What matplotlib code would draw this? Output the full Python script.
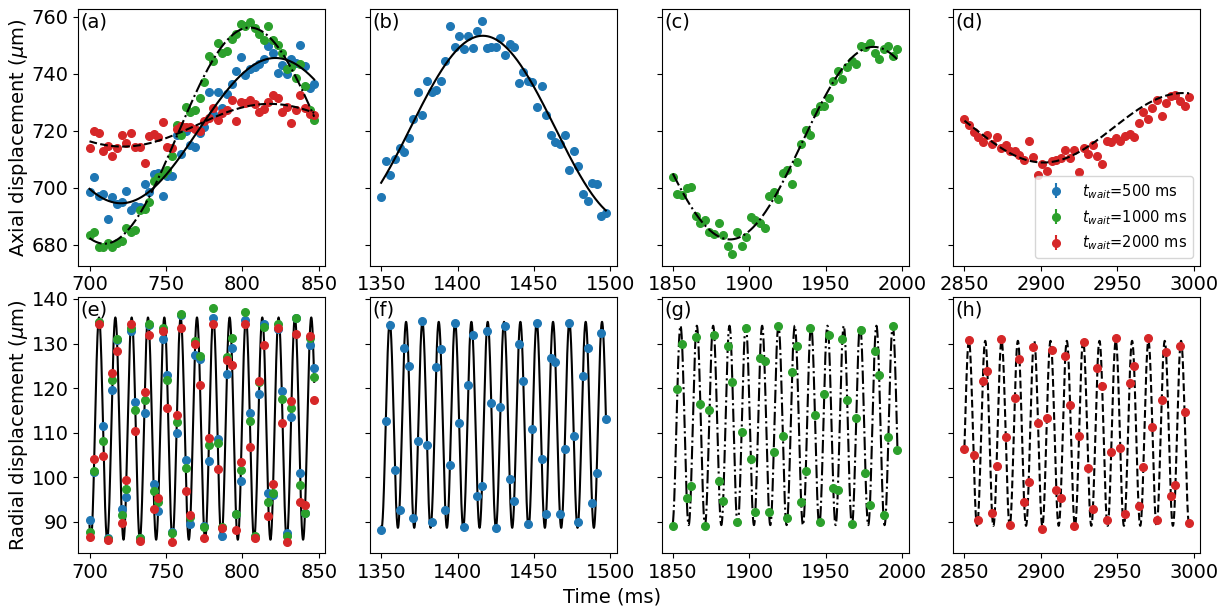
import numpy as np
import matplotlib
matplotlib.use("Agg")
import matplotlib.pyplot as plt

# ---------------- data ----------------
t_a = [700, 703, 706, 709, 712, 715, 718, 721, 724, 727, 730, 733, 736, 739, 742, 745, 748, 751, 754, 757,
       760, 763, 766, 769, 772, 775, 778, 781, 784, 787, 790, 793, 796, 799, 802, 805, 808, 811, 814, 817,
       820, 823, 826, 829, 832, 835, 838, 841, 844, 847]
t_b = [1350, 1353, 1356, 1359, 1362, 1365, 1368, 1371, 1374, 1377, 1380, 1383, 1386, 1389, 1392, 1395, 1398,
       1401, 1404, 1407, 1410, 1413, 1416, 1419, 1422, 1425, 1428, 1431, 1434, 1437, 1440, 1443, 1446, 1449,
       1452, 1455, 1458, 1461, 1464, 1467, 1470, 1473, 1476, 1479, 1482, 1485, 1488, 1491, 1494, 1497]
t_c = [1850, 1853, 1856, 1859, 1862, 1865, 1868, 1871, 1874, 1877, 1880, 1883, 1886, 1889, 1892, 1895, 1898,
       1901, 1904, 1907, 1910, 1913, 1916, 1919, 1922, 1925, 1928, 1931, 1934, 1937, 1940, 1943, 1946, 1949,
       1952, 1955, 1958, 1961, 1964, 1967, 1970, 1973, 1976, 1979, 1982, 1985, 1988, 1991, 1994, 1997]
t_d = [2850, 2853, 2856, 2859, 2862, 2865, 2868, 2871, 2874, 2877, 2880, 2883, 2886, 2889, 2892, 2895, 2898,
       2901, 2904, 2907, 2910, 2913, 2916, 2919, 2922, 2925, 2928, 2931, 2934, 2937, 2940, 2943, 2946, 2949,
       2952, 2955, 2958, 2961, 2964, 2967, 2970, 2973, 2976, 2979, 2982, 2985, 2988, 2991, 2994, 2997]

# axial displacement (um)
ax_a_blue = [698.6, 703.7, 697.1, 697.8, 688.9, 696.7, 694.1, 694.8, 698.7, 692.1, 693.4, 693.3, 701.2, 698.4,
             704.7, 705.0, 697.2, 704.1, 704.1, 718.3, 711.8, 719.7, 715.1, 714.1, 719.3, 721.2, 733.4, 725.9,
             733.5, 728.0, 732.7, 736.5, 740.8, 745.7, 739.7, 741.5, 742.4, 743.3, 745.3, 749.7, 747.1, 740.1,
             743.2, 739.9, 745.0, 743.8, 750.0, 742.8, 735.0, 736.5]
ax_a_green = [683.2, 684.4, 679.2, 679.2, 680.5, 679.2, 680.6, 681.4, 685.9, 684.4, 685.1, 692.3, 692.6, 695.0,
              702.4, 703.6, 704.7, 706.3, 711.0, 722.1, 718.6, 728.2, 726.5, 727.3, 731.5, 737.1, 746.2, 744.4,
              750.8, 747.1, 747.9, 752.1, 753.8, 757.3, 756.8, 758.2, 756.2, 753.8, 751.8, 756.7, 751.8, 750.2,
              747.4, 741.8, 742.4, 738.6, 743.5, 735.5, 727.1, 723.9]
ax_a_red = [713.9, 720.0, 719.2, 712.8, 714.7, 711.1, 713.9, 718.6, 715.5, 719.1, 714.4, 714.1, 708.7, 718.0,
            718.8, 717.9, 723.2, 714.4, 713.9, 720.6, 721.5, 721.4, 721.2, 720.6, 719.7, 723.5, 724.5, 728.0,
            723.8, 726.2, 727.3, 730.9, 723.3, 730.2, 729.8, 730.6, 729.2, 726.6, 727.7, 730.0, 732.6, 731.4,
            726.7, 728.2, 722.6, 727.1, 732.6, 727.8, 725.9, 725.5]
ax_b_blue = [696.7, 709.4, 704.5, 710.1, 713.8, 712.6, 717.3, 724.2, 733.7, 725.5, 737.3, 733.7, 734.1, 737.3,
             744.4, 756.8, 749.5, 753.3, 748.7, 753.3, 748.9, 754.9, 758.6, 749.1, 749.5, 749.5, 752.4, 746.6,
             750.4, 749.2, 736.8, 740.6, 737.3, 737.2, 728.4, 735.8, 725.5, 718.6, 715.9, 715.2, 718.5, 706.3,
             713.0, 707.7, 697.7, 695.3, 701.6, 701.2, 690.0, 691.0]
ax_c_green = [703.8, 697.9, 697.3, 699.7, 700.3, 690.0, 687.6, 688.5, 684.3, 683.8, 687.4, 683.4, 679.6, 676.7,
              684.3, 679.6, 682.6, 689.7, 688.5, 687.7, 685.9, 697.0, 698.3, 695.9, 705.0, 706.1, 701.1, 709.0,
              715.2, 720.2, 718.5, 726.7, 728.5, 728.8, 731.4, 737.3, 741.1, 738.0, 742.3, 744.5, 743.5, 749.8,
              749.4, 750.9, 747.3, 745.3, 748.6, 749.8, 746.1, 748.5]
ax_d_red = [724.1, 722.1, 719.4, 717.9, 716.1, 718.5, 715.3, 717.8, 713.9, 715.0, 713.0, 712.7, 711.5, 709.8,
            716.4, 710.8, 704.4, 708.3, 705.9, 709.2, 709.8, 710.4, 713.2, 710.3, 713.2, 705.3, 713.9, 711.8,
            715.0, 711.2, 708.3, 716.5, 715.9, 717.3, 716.5, 718.0, 718.8, 717.9, 722.7, 726.7, 724.1, 727.9,
            730.8, 725.3, 729.7, 732.0, 732.6, 730.4, 728.5, 731.8]

# radial displacement (um)
rad_e_blue = [90.3, 101.1, 134.5, 111.5, 86.2, 119.5, 130.8, 92.9, 95.5, 132.7, 116.8, 86.2, 114.5, 134.2,
              98.5, 92.3, 131.1, 123.0, 87.7, 109.9, 136.3, 103.8, 89.4, 127.4, 126.5, 89.0, 103.7, 135.8,
              108.6, 86.8, 123.2, 129.0, 91.8, 99.2, 135.3, 114.3, 86.5, 118.6, 134.3, 96.4, 96.0, 133.3,
              119.4, 87.5, 113.5, 135.8, 100.8, 92.0, 129.6, 124.4]
rad_e_green = [87.7, 101.4, 134.9, 108.1, 86.0, 121.8, 131.1, 91.5, 97.3, 133.5, 115.0, 86.2, 117.3, 134.3,
               96.9, 94.3, 133.5, 121.8, 87.5, 112.4, 136.7, 102.1, 91.0, 130.5, 127.1, 88.8, 107.1, 137.9,
               107.6, 88.8, 127.0, 131.3, 91.8, 101.6, 137.0, 112.5, 86.7, 121.4, 133.7, 94.3, 96.4, 134.4,
               117.5, 86.7, 115.5, 135.8, 98.3, 92.0, 131.3, 122.4]
rad_e_red = [86.5, 104.0, 134.4, 104.8, 85.9, 123.3, 128.3, 89.6, 99.4, 134.4, 110.4, 85.6, 119.2, 131.8,
             92.9, 95.2, 132.8, 115.6, 85.5, 114.0, 133.5, 96.9, 91.5, 129.8, 120.6, 86.2, 108.7, 134.4,
             101.9, 88.6, 126.2, 125.2, 88.0, 103.3, 134.4, 106.8, 86.2, 121.6, 129.6, 91.2, 98.5, 133.5,
             112.1, 85.5, 117.0, 132.2, 94.5, 93.7, 131.6, 117.2]
rad_f_blue = [88.0, 112.6, 134.2, 101.6, 92.5, 128.9, 125.0, 90.8, 108.0, 135.1, 107.1, 90.0, 124.8, 128.8,
              92.5, 102.8, 134.5, 112.2, 88.8, 120.6, 131.8, 95.7, 97.9, 132.7, 116.6, 88.6, 115.7, 133.9,
              99.5, 94.6, 129.9, 121.6, 89.4, 110.7, 134.6, 104.1, 91.8, 126.7, 125.9, 91.7, 106.3, 134.5,
              109.2, 90.0, 122.7, 129.1, 94.1, 100.8, 132.4, 113.0]
rad_g_green = [89.0, 119.7, 129.9, 95.2, 98.1, 131.5, 116.3, 89.1, 115.1, 132.0, 99.2, 94.6, 129.4, 121.3,
               90.0, 110.2, 133.4, 104.0, 92.2, 126.8, 126.0, 92.1, 105.6, 134.0, 109.3, 90.9, 123.5, 129.5,
               94.4, 101.3, 133.4, 114.0, 89.9, 118.6, 132.0, 97.5, 97.0, 131.0, 117.4, 89.4, 113.2, 133.0,
               100.9, 93.8, 128.3, 123.0, 91.4, 109.1, 134.0, 106.1]
rad_h_red = [106.3, 130.8, 105.0, 90.3, 121.5, 123.8, 92.0, 102.5, 130.9, 108.9, 89.2, 117.8, 126.6, 94.3,
             98.8, 129.2, 112.2, 88.4, 113.3, 128.5, 97.2, 95.2, 127.1, 116.2, 89.1, 109.2, 130.3, 102.0,
             92.9, 124.4, 120.5, 90.4, 105.6, 131.2, 106.6, 91.6, 121.2, 125.0, 93.5, 102.3, 131.2, 111.3,
             90.3, 117.3, 128.1, 95.8, 98.3, 129.4, 114.7, 89.7]

# axial fit parameters: offset, amplitude, period (ms), time of maximum (ms)
fit_a_blue = [720.0, 25.5, 202.0, 821.6]
fit_a_green = [718.25, 37.95, 190.0, 804.8]
fit_a_red = [721.9, 7.5, 192.0, 817.9]
fit_b_blue = [720.8, 32.5, 190.0, 1416.5]
fit_c_green = [715.6, 33.8, 188.0, 1981.4]
fit_d_red = [721.0, 12.2, 183.0, 2993.2]
# radial oscillation period guesses (ms)
period_e, period_f, period_g, period_h = 10.72, 10.57, 10.72, 10.63

labels = ["$t_{wait}$=500 ms", "$t_{wait}$=1000 ms", "$t_{wait}$=2000 ms"]
panel_letters = ["(a)", "(b)", "(c)", "(d)", "(e)", "(f)", "(g)", "(h)"]
xticks = [[700, 750, 800, 850], [1350, 1400, 1450, 1500], [1850, 1900, 1950, 2000], [2850, 2900, 2950, 3000]]

C_BLUE, C_GREEN, C_RED = "tab:blue", "tab:green", "tab:red"
LS = {C_BLUE: "-", C_GREEN: "-.", C_RED: "--"}


def axial_model(t, p):
    t = np.asarray(t, float)
    return p[0] + p[1] * np.cos(2 * np.pi * (t - p[3]) / p[2])


def radial_fit(t, y, p0):
    t = np.asarray(t, float)
    y = np.asarray(y, float)
    best = None
    for P in np.linspace(p0 * 0.97, p0 * 1.03, 1201):
        w = 2 * np.pi / P
        X = np.column_stack([np.ones_like(t), np.cos(w * t), np.sin(w * t)])
        coef = np.linalg.lstsq(X, y, rcond=None)[0]
        r = np.sum((X @ coef - y) ** 2)
        if best is None or r < best[0]:
            best = (r, P, coef)
    _, P, coef = best

    def f(tt):
        w = 2 * np.pi / P
        return coef[0] + coef[1] * np.cos(w * tt) + coef[2] * np.sin(w * tt)
    return f


plt.rcParams["font.family"] = ["DejaVu Sans"]
plt.rcParams["font.size"] = 14

fig, axes = plt.subplots(2, 4, figsize=(12.29, 6.09), dpi=100, sharey="row")
fig.subplots_adjust(left=0.0637, right=0.9767, bottom=0.0915, top=0.9852, wspace=0.18, hspace=0.121)

MS = 5.5


def pts(ax, t, y, color, label=None):
    return ax.errorbar(t, y, yerr=np.zeros(len(y)), fmt="o", color=color, ms=MS, zorder=3, label=label)


# --- top row ---
top = [
    (axes[0, 0], t_a, [(ax_a_blue, C_BLUE, fit_a_blue), (ax_a_green, C_GREEN, fit_a_green), (ax_a_red, C_RED, fit_a_red)]),
    (axes[0, 1], t_b, [(ax_b_blue, C_BLUE, fit_b_blue)]),
    (axes[0, 2], t_c, [(ax_c_green, C_GREEN, fit_c_green)]),
    (axes[0, 3], t_d, [(ax_d_red, C_RED, fit_d_red)]),
]
handles = []
for ax, t, series in top:
    tt = np.linspace(t[0], t[-1], 600)
    for y, col, p in series:
        h = pts(ax, t, y, col)
        if ax is axes[0, 0]:
            handles.append(h)
    for y, col, p in series:
        ax.plot(tt, axial_model(tt, p), color="black", ls=LS[col], lw=1.5, zorder=4)

# --- bottom row ---
bottom = [
    (axes[1, 1], t_b, [(rad_f_blue, C_BLUE)], period_f),
    (axes[1, 2], t_c, [(rad_g_green, C_GREEN)], period_g),
    (axes[1, 3], t_d, [(rad_h_red, C_RED)], period_h),
]
for ax, t, series, p0 in bottom:
    tt = np.linspace(t[0], t[-1], 3000)
    for y, col in series:
        pts(ax, t, y, col)
    for y, col in series:
        f = radial_fit(t, y, p0)
        ax.plot(tt, f(tt), color="black", ls=LS[col], lw=1.5, zorder=2)

# panel (e): all three wait times share one oscillation fit
ax_e = axes[1, 0]
for y, col in [(rad_e_blue, C_BLUE), (rad_e_green, C_GREEN), (rad_e_red, C_RED)]:
    pts(ax_e, t_a, y, col)
t_all = np.concatenate([t_a, t_a, t_a])
y_all = np.concatenate([rad_e_blue, rad_e_green, rad_e_red])
f_e = radial_fit(t_all, y_all, period_e)
tt = np.linspace(t_a[0], t_a[-1], 3000)
ax_e.plot(tt, f_e(tt), color="black", ls="-", lw=1.5, zorder=2)

for i, ax in enumerate(axes.flat):
    ax.set_xticks(xticks[i % 4])
    ax.tick_params(labelsize=14)
    ax.text(0.01, 0.985, panel_letters[i], transform=ax.transAxes, ha="left", va="top", fontsize=14)
    if i % 4 != 0:
        ax.tick_params(labelleft=False)

axes[0, 0].set_yticks([680, 700, 720, 740, 760])
axes[1, 0].set_yticks([90, 100, 110, 120, 130, 140])
axes[0, 0].set_ylabel(r"Axial displacement ($\mu$m)", fontsize=14, labelpad=1)
axes[1, 0].set_ylabel(r"Radial displacement ($\mu$m)", fontsize=14, labelpad=1)
fig.text(0.498, 0.02, "Time (ms)", ha="center", va="center", fontsize=14)

axes[0, 3].legend(handles, labels, loc="lower right", fontsize=10.5)

fig.savefig("out.png", dpi=100)
